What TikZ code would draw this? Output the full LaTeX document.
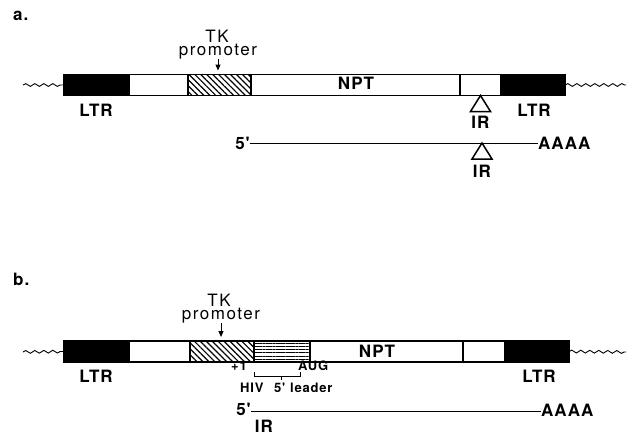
\documentclass[tikz,border=0pt]{standalone}
\usepackage{fontspec}
\setmainfont{TeX Gyre Heros}
\newfontfamily\spaced[LetterSpace=6]{TeX Gyre Heros}
\newfontfamily\wide[LetterSpace=9]{TeX Gyre Heros}
\usetikzlibrary{patterns.meta,decorations.pathmorphing,arrows.meta}

\tikzset{
  seg/.style={draw, line width=1.2pt, inner sep=0pt, outer sep=0pt,
              minimum height=21pt, anchor=north west},
  ltrbox/.style={seg, fill=black},
  plain/.style={seg, fill=white},
  diag/.style={seg, pattern={Lines[angle=-45,distance=4.2pt,line width=1.2pt]}},
  horiz/.style={seg, pattern={Lines[angle=0,distance=3.3pt,line width=0.7pt]}},
  wave/.style={decorate, decoration={snake, amplitude=1.4pt, segment length=9pt},
               line width=0.9pt},
  lab/.style={inner sep=0pt, anchor=base, font=\spaced\fontsize{17}{17}\selectfont\bfseries},
  prom/.style={inner sep=0pt, anchor=base, font=\wide\fontsize{17}{17}\selectfont},
  small/.style={inner sep=0pt, anchor=base west, font=\spaced\fontsize{13}{13}\selectfont\bfseries},
  arr/.style={line width=1pt, -{Triangle[width=5pt,length=6pt]}},
  rna/.style={line width=1pt},
  irtri/.style={line width=1.5pt, fill=white, line join=miter},
}

\begin{document}
\begin{tikzpicture}[x=1pt,y=-1pt]
\useasboundingbox (0,0) rectangle (627,432);

% ---------------- construct a ----------------
\node[lab, anchor=base west] (la) at (13,20) {a.};

\node[ltrbox, minimum width=65pt] (aL1) at (64,74.5) {};
\node[plain,  minimum width=59pt] (aW1) at (129,74.5) {};
\node[diag,   minimum width=63pt] (aTK) at (188,74.5) {};
\node[plain,  minimum width=209pt] (aNPT) at (251,74.5) {};
\node[plain,  minimum width=41pt] (aIR) at (460,74.5) {};
\node[ltrbox, minimum width=64pt] (aL2) at (501,74.5) {};

\coordinate (awl) at (23,85);
\coordinate (awr) at (626,85);
\draw[wave] (awl) -- (aL1.west);
\draw[wave] (aL2.east) -- (awr);

\node[prom] (aTKt) at (217,42.5) {TK};
\node[prom] (aProm) at (218,55) {promoter};
\draw[arr, shorten >=4pt] (aProm.south) -- (aProm.south |- aTK.north);

\node[lab] (aLTR1) at (96,116.5) {LTR};
\node[lab] (aLTR2) at (534,116.5) {LTR};
\node[lab] (aNPTt) at (356,89.5) {NPT};

\draw[irtri] (aIR.south) -- ++(-10,16) -- ++(20,0) -- cycle;
\node[lab] (aIRt) at (480.5,128.5) {IR};

\node[lab, anchor=base east] (a5) at (250,149.5) {5'};
\node[lab, anchor=base west] (aA) at (538,149) {AAAA};
\draw[rna] (a5.east |- 0,143) -- (aA.west |- 0,143);
\coordinate (airm) at (482,143);
\draw[irtri] (airm) -- ++(-10,16) -- ++(20,0) -- cycle;
\node[lab] (aIRt2) at (482,177) {IR};

% ---------------- construct b ----------------
\node[lab, anchor=base west] (lb) at (13,285) {b.};

\node[ltrbox, minimum width=65pt] (bL1) at (64,341) {};
\node[plain,  minimum width=61pt] (bW1) at (129,341) {};
\node[diag,   minimum width=64pt] (bTK) at (190,341) {};
\node[horiz,  minimum width=56pt] (bHIV) at (254,341) {};
\node[plain,  minimum width=153pt] (bNPT) at (310,341) {};
\node[plain,  minimum width=42pt] (bW2) at (463,341) {};
\node[ltrbox, minimum width=64pt] (bL2) at (505,341) {};

\coordinate (bwl) at (23,352);
\coordinate (bwr) at (626,352);
\draw[wave] (bwl) -- (bL1.west);
\draw[wave] (bL2.east) -- (bwr);

\node[prom] (bTKt) at (219,306) {TK};
\node[prom] (bProm) at (221,319.5) {promoter};
\draw[arr, shorten >=4pt] (bProm.south) -- (bProm.south |- bTK.north);

\node[lab] (bLTR1) at (96,382) {LTR};
\node[lab] (bLTR2) at (539,382) {LTR};
\node[lab] (bNPTt) at (377,357) {NPT};

% HIV 5' leader span from +1 to AUG
\node[small, anchor=base east] (bp1) at (247,370) {+1};
\node[small] (bAUG) at (298,370) {AUG};
\coordinate (brl) at (254,371.5);
\coordinate (brr) at (300,371.5);
\coordinate (brt) at (281,376);
\draw[line width=0.9pt] (brl) |- (brr |- brt) -- (brr);
\draw[line width=0.9pt] (brt) -- ++(0,4);
\node[small] (bHIVt) at (240,392) {HIV};
\node[small] (b5l) at (274,392) {5'};
\node[small] (bLead) at (290,392) {leader};

\node[lab, anchor=base east] (b5) at (251,415.5) {5'};
\node[lab, anchor=base west] (bA) at (541,416.5) {AAAA};
\draw[rna] (b5.east |- 0,411) -- (bA.west |- 0,411);
\node[lab] (bIRt) at (264,432.5) {IR};
\end{tikzpicture}
\end{document}
